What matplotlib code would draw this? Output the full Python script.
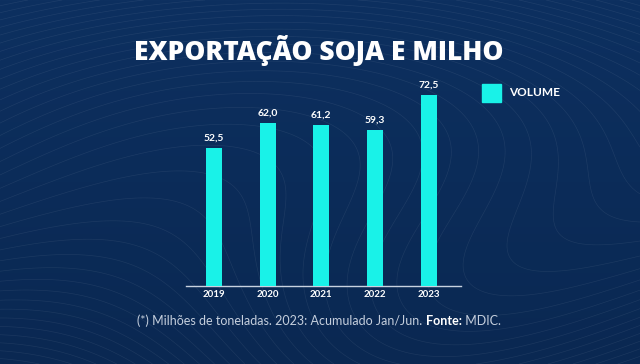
import numpy as np
import matplotlib
matplotlib.use("Agg")
import matplotlib.pyplot as plt
from matplotlib.patches import Rectangle

# ---- data ----
years = ["2019", "2020", "2021", "2022", "2023"]
volume = [52.5, 62.0, 61.2, 59.3, 72.5]
value_labels = ["52,5", "62,0", "61,2", "59,3", "72,5"]
title = "EXPORTAÇÃO SOJA E MILHO"
legend_label = "VOLUME"
foot_pre = "(*) Milhões de toneladas. 2023: Acumulado Jan/Jun. "
foot_bold = "Fonte:"
foot_post = " MDIC."

BAR = "#19f2e8"
FONT = ["Lato", "DejaVu Sans"]
TFONT = ["Open Sans", "DejaVu Sans"]

W, H = 640, 364
fig = plt.figure(figsize=(W / 100, H / 100), dpi=100)

# background gradient + faint contour texture
bg = fig.add_axes([0, 0, 1, 1], zorder=-10)
bg.set_axis_off()
yy, xx = np.mgrid[0:1:200j, 0:1:350j]
c_top = np.array([0x0d, 0x30, 0x60]) / 255
c_bot = np.array([0x0a, 0x28, 0x52]) / 255
grad = c_top[None, None, :] * (1 - yy[..., None]) + c_bot[None, None, :] * yy[..., None]
bg.imshow(grad, extent=[0, 1, 1, 0], aspect="auto")
field = (np.sin(3.0 * xx + 2.2 * yy) + 0.8 * np.cos(4.0 * yy - 1.5 * xx)
         + 0.5 * np.sin(6.0 * xx * yy + 1.0) + 6.0 * yy)
bg.contour(xx, yy, field, levels=40, colors="white", linewidths=0.5, alpha=0.07)
bg.set_xlim(0, 1)
bg.set_ylim(1, 0)

# main axes
ax = fig.add_axes([186 / W, 1 - 286 / H, 275 / W, 210.4 / H])
ax.set_facecolor("none")
x = np.arange(len(years))
bars = ax.bar(x, volume, width=0.30, color=BAR, zorder=3)
ax.set_xlim(-0.52, 4.6)
ax.set_ylim(0, 80)
for s in ["top", "right", "left"]:
    ax.spines[s].set_visible(False)
ax.spines["bottom"].set_color("#c8d2e0")
ax.spines["bottom"].set_linewidth(1.0)
ax.set_yticks([])
ax.set_xticks(x)
ax.set_xticklabels(years, fontsize=7, color="white", fontweight="bold", family=FONT)
ax.tick_params(axis="x", length=0, pad=3)
for xi, v, lab in zip(x, volume, value_labels):
    ax.annotate(lab, (xi, v), xytext=(0, 4), textcoords="offset points",
                ha="center", va="bottom", color="white", fontsize=7.5,
                fontweight="bold", family=FONT)

# title
fig.text(319 / W, 1 - 50 / H, title, ha="center", va="center", color="white",
         fontsize=19, fontweight=800, family=TFONT)

# legend
fig.add_artist(Rectangle((482 / W, 1 - 102 / H), 19 / W, 18 / H,
                         transform=fig.transFigure, color=BAR))
fig.text(509 / W, 1 - 93 / H, legend_label, ha="left", va="center",
         color="white", fontsize=8.5, fontweight="bold", family=FONT)

# footnote with bold part
renderer = fig.canvas.get_renderer()
fs = 9
parts = [(foot_pre, "normal", "#c5cfdd"), (foot_bold, "bold", "white"), (foot_post, "normal", "#c5cfdd")]
texts = []
for s, w, c in parts:
    t = fig.text(0, 1 - 321 / H, s, ha="left", va="center", color=c,
                 fontsize=fs, fontweight=w, family=FONT)
    texts.append(t)
widths = [t.get_window_extent(renderer).width for t in texts]
total = sum(widths)
start = 319 - total / 2
for t, wd in zip(texts, widths):
    t.set_x(start / W)
    start += wd

fig.savefig("out.png", dpi=100)
